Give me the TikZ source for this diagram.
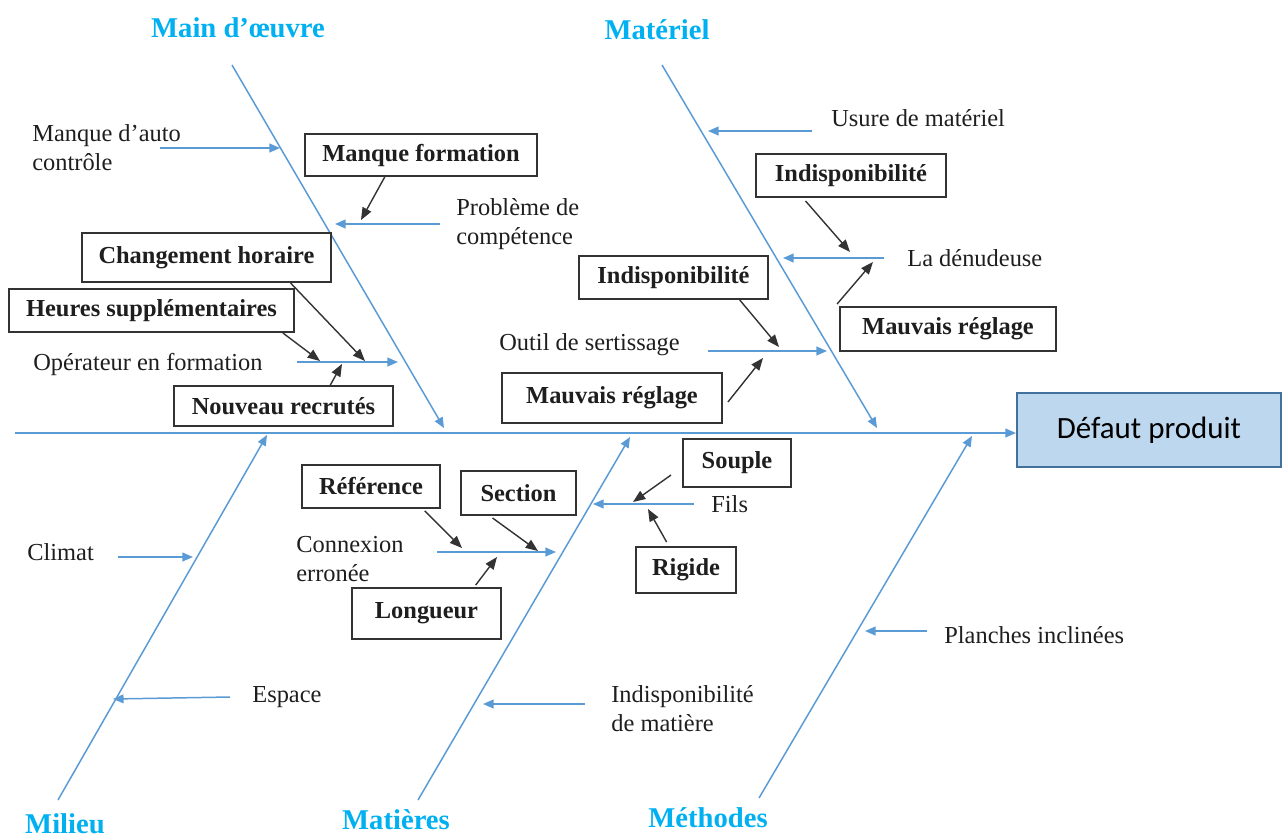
\documentclass[tikz,border=0pt]{standalone}
\usepackage{fontspec}
\setmainfont{Liberation Serif}
\newfontfamily\calibrifont{Carlito}
\usetikzlibrary{arrows.meta,calc}
\definecolor{bone}{HTML}{5B9BD5}
\definecolor{cat}{HTML}{00B0F0}
\definecolor{effectfill}{HTML}{BDD7EE}
\definecolor{effectline}{HTML}{41719C}
\definecolor{ink}{HTML}{1E1E1E}
\definecolor{frame}{HTML}{333333}
\begin{document}
\begin{tikzpicture}[x=0.02cm,y=-0.02cm,
  boneline/.style={draw=bone,line width=0.85pt},
  bonearrow/.style={draw=bone,line width=0.85pt,-{Triangle[length=6pt,width=5pt]}},
  subarrow/.style={draw=frame,line width=0.8pt,-{Triangle[length=7pt,width=5.5pt]}},
  cause/.style={draw=frame,line width=1.1pt,inner sep=0pt,text=ink,
    font=\fontsize{13.9}{16}\selectfont\bfseries},
  lbl/.style={font=\fontsize{13.9}{16.5}\selectfont,text=ink,inner sep=0pt,align=left,anchor=west},
  category/.style={font=\fontsize{16.3}{19}\selectfont\bfseries,text=cat,inner sep=0pt},
  effect/.style={draw=effectline,fill=effectfill,line width=1.2pt,inner sep=0pt,
    font=\calibrifont\fontsize{17.6}{20}\selectfont,text=black},
]
\useasboundingbox (0,0) rectangle (1282,839);

% ---------- effect and spine ----------
\node[effect,minimum width=5.28cm,minimum height=1.48cm] (eff) at (1149,430) {Défaut produit};
\coordinate (sp0) at (15,433);
\draw[bonearrow] (sp0) -- (sp0 -| eff.west);

% ---------- main bones ----------
\coordinate (mo0) at (232,65);  \coordinate (mo1) at (444,428);
\coordinate (ma0) at (662,65);  \coordinate (ma1) at (877,428);
\coordinate (mi0) at (58,800);  \coordinate (mi1) at (267,435);
\coordinate (mt0) at (418,800); \coordinate (mt1) at (630,437);
\coordinate (me0) at (759,798); \coordinate (me1) at (972,436);
\draw[bonearrow] (mo0) -- (mo1);
\draw[bonearrow] (ma0) -- (ma1);
\draw[bonearrow] (mi0) -- (mi1);
\draw[bonearrow] (mt0) -- (mt1);
\draw[bonearrow] (me0) -- (me1);

% ---------- category titles ----------
\node[category] (tmo) at (238,28) {Main d’œuvre};
\node[category] (tma) at (657,30) {Matériel};
\node[category] (tmi) at (65,824) {Milieu};
\node[category] (tmt) at (396,820) {Matières};
\node[category] (tme) at (708,818) {Méthodes};

% ---------- Main d'oeuvre ----------
\node[lbl] (auto) at (32,148) {Manque d’auto\\contrôle};
\coordinate (auto0) at (160,148); \coordinate (auto1) at (280,148);
\draw[bonearrow] (auto0) -- (auto1);

\node[cause,minimum width=4.64cm,minimum height=0.84cm] (mf) at (421,155) {Manque formation};
\node[lbl] (comp) at (456,224) {Problème de\\compétence};
\coordinate (comp0) at (440,224); \coordinate (comp1) at (335,224);
\draw[bonearrow] (comp0) -- (comp1);
\coordinate (compin) at (361,220);
\draw[subarrow] ($(mf.south west)!0.345!(mf.south east)$) -- (compin);

\node[cause,minimum width=4.98cm,minimum height=0.98cm] (ch) at (206.5,257.5) {Changement horaire};
\node[cause,minimum width=5.70cm,minimum height=0.86cm] (hs) at (151.5,310.5) {Heures supplémentaires};
\node[cause,minimum width=4.38cm,minimum height=0.80cm] (nr) at (283.5,406) {Nouveau recrutés};
\node[lbl] (opf) at (33,364) {Opérateur en formation};
\coordinate (op0) at (297,362); \coordinate (op1) at (398,362);
\draw[bonearrow] (op0) -- (op1);
\coordinate (opa) at (320,361); \coordinate (opb) at (365,361); \coordinate (opc) at (342,364);
\draw[subarrow] ($(hs.south west)!0.958!(hs.south east)$) -- (opa);
\draw[subarrow] ($(ch.south west)!0.835!(ch.south east)$) -- (opb);
\draw[subarrow] ($(nr.north west)!0.712!(nr.north east)$) -- (opc);

% ---------- Materiel ----------
\node[lbl] (usure) at (831,118) {Usure de matériel};
\coordinate (us0) at (812,131); \coordinate (us1) at (708,131);
\draw[bonearrow] (us0) -- (us1);

\node[cause,minimum width=3.80cm,minimum height=0.86cm] (ind1) at (851,175.5) {Indisponibilité};
\node[cause,minimum width=4.32cm,minimum height=0.88cm] (mr1) at (948,329) {Mauvais réglage};
\node[lbl] (denud) at (907,258) {La dénudeuse};
\coordinate (dn0) at (884,258); \coordinate (dn1) at (783,258);
\draw[bonearrow] (dn0) -- (dn1);
\coordinate (dna) at (850,252); \coordinate (dnb) at (873,262);
\draw[subarrow] ([shift={(0,3)}]$(ind1.south west)!0.263!(ind1.south east)$) -- (dna);
\draw[subarrow] ([shift={(-2,-2)}]mr1.north west) -- (dnb);

\node[cause,minimum width=3.78cm,minimum height=0.86cm] (ind2) at (673.5,277.5) {Indisponibilité};
\node[cause,minimum width=4.40cm,minimum height=1.00cm] (mr2) at (612,398) {Mauvais réglage};
\node[lbl] (outil) at (499,345) {Outil de sertissage};
\coordinate (ou0) at (708,351); \coordinate (ou1) at (827,351);
\draw[bonearrow] (ou0) -- (ou1);
\coordinate (oua) at (779,347); \coordinate (oub) at (763,358);
\draw[subarrow] ($(ind2.south west)!0.847!(ind2.south east)$) -- (oua);
\draw[subarrow] ([shift={(5,4)}]mr2.east) -- (oub);

% ---------- Milieu ----------
\node[lbl] (climat) at (27,552) {Climat};
\coordinate (cl0) at (118,557); \coordinate (cl1) at (193,557);
\draw[bonearrow] (cl0) -- (cl1);
\node[lbl] (espace) at (252,697) {Espace};
\coordinate (es0) at (230,697); \coordinate (es1) at (113,699);
\draw[bonearrow] (es0) -- (es1);

% ---------- Matieres ----------
\node[cause,minimum width=2.76cm,minimum height=0.86cm] (ref) at (371,486.5) {Référence};
\node[cause,minimum width=2.30cm,minimum height=0.88cm] (sec) at (518.5,493) {Section};
\node[cause,minimum width=2.98cm,minimum height=1.02cm] (lon) at (426.5,613.5) {Longueur};
\node[lbl] (conn) at (296,559) {Connexion\\erronée};
\coordinate (cn0) at (437,552); \coordinate (cn1) at (556,552);
\draw[bonearrow] (cn0) -- (cn1);
\coordinate (cna) at (462,548); \coordinate (cnb) at (538,551); \coordinate (cnc) at (497,557);
\draw[subarrow] ([shift={(0,2)}]$(ref.south west)!0.884!(ref.south east)$) -- (cna);
\draw[subarrow] ([shift={(0,2)}]$(sec.south west)!0.278!(sec.south east)$) -- (cnb);
\draw[subarrow] ([shift={(0,-2)}]$(lon.north west)!0.826!(lon.north east)$) -- (cnc);

\node[cause,minimum width=2.16cm,minimum height=0.96cm] (souple) at (737,463) {Souple};
\node[cause,minimum width=2.00cm,minimum height=0.92cm] (rigide) at (686,570) {Rigide};
\node[lbl] (fils) at (711,504) {Fils};
\coordinate (fl0) at (694,504); \coordinate (fl1) at (593,504);
\draw[bonearrow] (fl0) -- (fl1);
\coordinate (fla) at (633,502); \coordinate (flb) at (648,509);
\draw[subarrow] ([shift={(-11,12)}]souple.west) -- (fla);
\draw[subarrow] ([shift={(0,-4)}]$(rigide.north west)!0.31!(rigide.north east)$) -- (flb);

\node[lbl] (idm) at (611,709) {Indisponibilité\\de matière};
\coordinate (im0) at (585,704); \coordinate (im1) at (483,704);
\draw[bonearrow] (im0) -- (im1);

% ---------- Methodes ----------
\node[lbl] (planches) at (944,635) {Planches inclinées};
\coordinate (pl0) at (927,631); \coordinate (pl1) at (865,631);
\draw[bonearrow] (pl0) -- (pl1);
\end{tikzpicture}
\end{document}
